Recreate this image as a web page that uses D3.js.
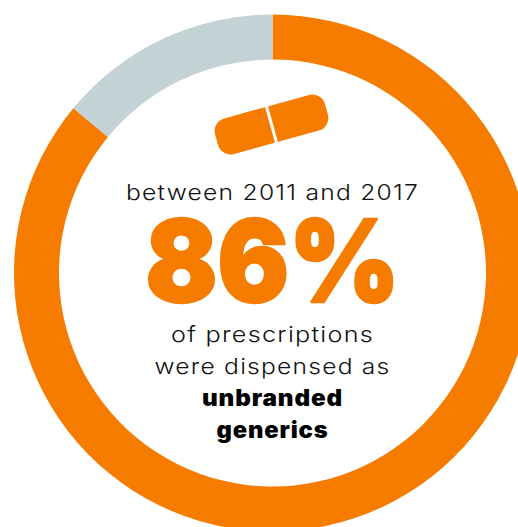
<!DOCTYPE html>
<html>
<head>
<meta charset="utf-8">
<script src="https://cdn.jsdelivr.net/npm/d3@7"></script>
<style>
html,body{margin:0;padding:0;background:#fff;overflow:hidden}
svg{display:block}
</style>
</head>
<body>
<script>
// Share of prescriptions by dispensing type, clockwise from twelve o'clock
const categories = ["Unbranded generics", "Other"];
const shares = [86, 14];
const sliceColors = ["#f67c00", "#c3d2d4"];
const introLine = "between 2011 and 2017";
const headline = "86%";
const bodyLines = ["of prescriptions", "were dispensed as"];
const boldLines = ["unbranded", "generics"];

const width = 518, height = 527;
const cx = 272.5, cy = 273, outerR = 258.5, innerR = 213.5;
const orange = sliceColors[0];

const svg = d3.select("body").append("svg")
  .attr("width", width).attr("height", height);

// Donut ring
const pie = d3.pie().sort(null).value(d => d);
const arc = d3.arc().innerRadius(innerR).outerRadius(outerR);
svg.append("g").attr("transform", `translate(${cx},${cy})`)
  .selectAll("path").data(pie(shares)).join("path")
  .attr("d", arc)
  .attr("fill", (d, i) => sliceColors[i]);

// Capsule icon: rounded bar split by a thin white score line
const pill = svg.append("g").attr("transform", "translate(271.5,124.5) rotate(-15.5)");
pill.append("rect")
  .attr("x", -57).attr("y", -18.5).attr("width", 114).attr("height", 37)
  .attr("rx", 13).attr("fill", orange);
pill.append("line")
  .attr("x1", 0).attr("x2", 0).attr("y1", -20).attr("y2", 20)
  .attr("stroke", "#fff").attr("stroke-width", 3);

const label = (txt, y, size, weight, fill, spacing, fit) => {
  const t = svg.append("text")
    .attr("x", cx).attr("y", y)
    .attr("text-anchor", "middle")
    .attr("font-family", "Inter, Lato, 'Noto Sans', sans-serif")
    .attr("font-size", size).attr("font-weight", weight)
    .attr("fill", fill).attr("letter-spacing", spacing)
    .text(txt);
  if (fit) t.attr("textLength", fit).attr("lengthAdjust", "spacingAndGlyphs");
  return t;
};

label(introLine, 200, 22, 300, "#111", 1.1, 293);
label(headline, 302, 114, 900, orange, 0, 254)
  .attr("stroke", orange).attr("stroke-width", 2.5).attr("stroke-linejoin", "round");
bodyLines.forEach((s, i) => label(s, 342 + i * 32, 22, 300, "#111", 1.1, [203, 236][i]));
boldLines.forEach((s, i) => label(s, 406 + i * 32, 22.5, 900, "#000", 0.8, [141, 112][i]));
</script>
</body>
</html>
